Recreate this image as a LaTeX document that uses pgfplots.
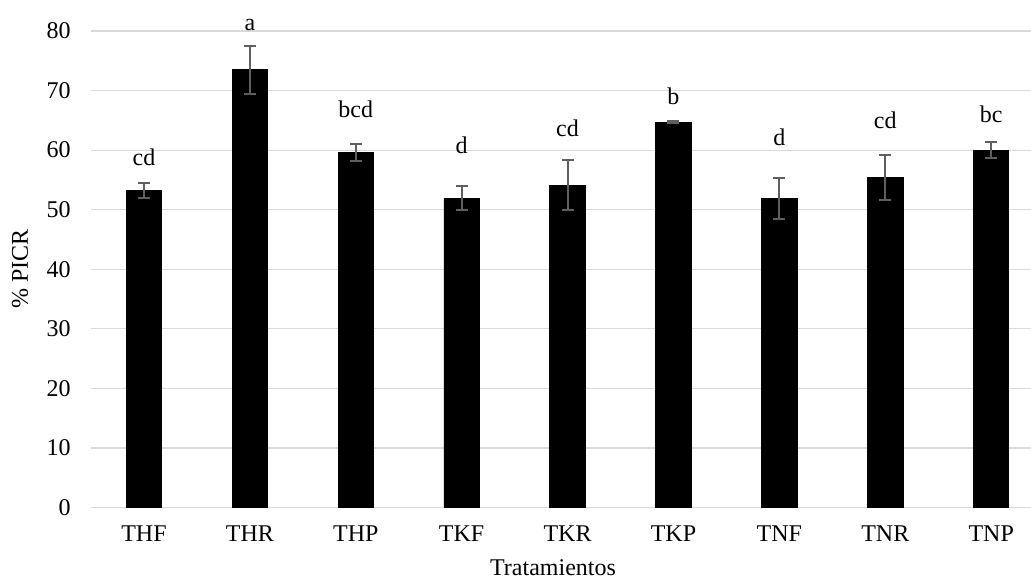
\documentclass[border=0pt]{standalone}
\usepackage{pgfplots}
\pgfplotsset{compat=1.18}
\usepackage{pgfplotstable}
\usepackage{fontspec}
\setmainfont{Liberation Serif}
\definecolor{gridc}{HTML}{D9D9D9}
\definecolor{errc}{HTML}{5F5F5F}
\pgfplotstableread{
x val err
0 53.2 1.2
1 73.5 4.0
2 59.6 1.4
3 51.9 2.0
4 54.1 4.2
5 64.7 0.15
6 51.9 3.4
7 55.4 3.7
8 60.0 1.3
}\bars
\pgfplotstableread{
x y lab
0 57.5 cd
1 80.1 a
2 65.5 bcd
3 59.4 d
4 62.3 cd
5 67.7 b
6 60.8 d
7 63.7 cd
8 64.6 bc
}\labs
\begin{document}
\fontsize{12}{14}\selectfont
\begin{tikzpicture}
\begin{axis}[
  scale only axis,
  width=470pt, height=238.25pt,
  xmin=-0.5, xmax=8.376,
  ymin=0, ymax=80,
  ytick={0,10,...,80},
  xtick={0,...,8},
  xticklabels={THF,THR,THP,TKF,TKR,TKP,TNF,TNR,TNP},
  ymajorgrids,
  grid style={gridc, line width=0.6pt},
  axis line style={draw=none},
  tick style={draw=none},
  major tick length=0pt,
  /pgf/number format/assume math mode=true,
  tick label style={font=\fontsize{12}{14}\selectfont},
  yticklabel style={xshift=-6pt},
  xticklabel style={yshift=-5pt},
  xlabel={Tratamientos},
  ylabel={\% PICR},
  label style={font=\fontsize{12}{14}\selectfont},
  xlabel style={at={(axis description cs:0.4915,-0.1417)}, anchor=base},
  ylabel style={at={(axis description cs:-0.0755,0.5)}, anchor=center, rotate=0},
  clip=false,
]
\addplot[ybar, bar width=17.7pt, fill=black, draw=black,
  error bars/.cd, y dir=both, y explicit,
  error bar style={errc, line width=1pt},
  error mark options={rotate=90, mark size=3pt, errc, line width=1pt}]
  table[x=x, y=val, y error=err] {\bars};
\addplot[only marks, mark=none, nodes near coords, point meta=explicit symbolic,
  nodes near coords style={anchor=base, font=\fontsize{12}{14}\selectfont, inner sep=0pt}]
  table[x=x, y=y, meta=lab] {\labs};
\end{axis}
\pgfresetboundingbox
\path[use as bounding box] (-45.5pt,-37.25pt) rectangle (470pt,253.75pt);
\end{tikzpicture}
\end{document}
